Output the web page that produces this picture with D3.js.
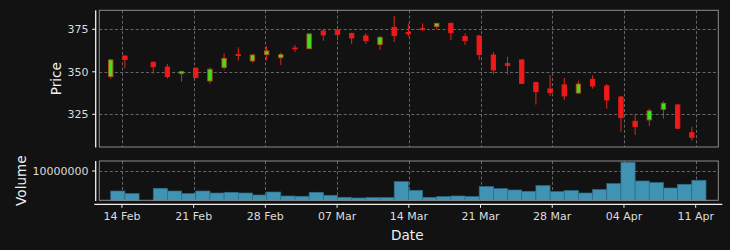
<!DOCTYPE html>
<html><head><meta charset="utf-8">
<script src="https://cdn.jsdelivr.net/npm/d3@7"></script>
<style>html,body{margin:0;padding:0;background:#121212;} svg{display:block;}</style>
</head><body><svg id="c" width="730" height="250"></svg>
<script>
// ---- data (null = missing session) ----
const open  = [347.2,359.3,null,355.6,352.8,348.9,352.1,344.6,352.5,360.1,356.4,360.1,358.3,364.0,363.6,374.0,374.6,372.6,371.1,366.0,376.2,373.2,375.4,376.6,378.5,370.7,371.1,359.9,354.8,357.0,343.6,339.9,342.3,337.5,345.6,341.7,335.2,320.9,321.7,327.9,330.5,314.2];
const high  = [357.3,359.6,null,356.0,354.6,350.5,352.6,352.6,360.9,364.4,360.5,365.2,361.3,365.8,372.6,375.0,375.2,373.0,372.6,371.1,382.8,378.5,378.5,378.5,378.9,372.6,371.7,361.7,358.9,357.4,344.2,348.1,346.4,344.8,347.9,342.8,335.8,325.2,328.3,332.6,331.1,317.7];
const low   = [346.0,352.1,null,348.9,346.0,344.2,346.2,343.0,351.1,356.6,355.4,356.6,354.0,361.7,363.4,368.3,368.7,366.4,366.4,362.8,367.5,370.7,374.2,375.0,368.7,365.8,357.0,348.5,348.5,342.8,330.7,335.8,333.4,337.3,340.1,328.3,314.8,312.8,318.1,322.5,316.4,309.5];
const close = [357.0,357.2,null,353.0,347.2,350.1,346.6,351.5,357.9,359.7,359.9,362.3,360.1,363.6,372.3,371.7,371.9,369.9,368.3,370.3,371.3,372.3,374.8,378.5,373.0,368.3,360.1,351.1,353.8,343.2,338.3,337.7,335.8,342.8,341.7,333.4,323.0,317.7,327.0,331.5,316.8,311.5];
const volume = [3170000,2290000,null,4100000,3170000,2290000,3170000,2490000,2730000,2490000,1810000,2830000,1470000,1370000,2730000,1710000,1020000,790000,920000,920000,6380000,3410000,1020000,1260000,1470000,1260000,4680000,3990000,3520000,3070000,5020000,2970000,3310000,2490000,3650000,5700000,12970000,6590000,6040000,4200000,5460000,6830000];
const priceTicks = [325, 350, 375];
const volumeTicks = [10000000];
const dateTicks = ['2022-02-14','2022-02-21','2022-02-28','2022-03-07','2022-03-14','2022-03-21','2022-03-28','2022-04-04','2022-04-11'];
const firstBar = new Date(Date.UTC(2022,1,12,21,46));
const barHours = 33.2;

// ---- layout ----
const L = 99.3, R = 718.3;
const pTop = 10.3, pBot = 147, vTop = 161, vBot = 200.3;
const dates = open.map((_, i) => d3.utcMinute.offset(firstBar, Math.round(i * barHours * 60)));
const parse = d3.utcParse('%Y-%m-%d');
const tickDates = dateTicks.map(parse);
const fmt = d3.utcFormat('%d %b');

const x = d3.scaleUtc()
  .domain([d3.utcHour.offset(tickDates[0], -52.5), d3.utcHour.offset(tickDates[tickDates.length-1], 53.7)])
  .range([L, R]);
const y = d3.scaleLinear().domain([305.76, 386.18]).range([pBot, pTop]);
const yv = d3.scaleLinear().domain([0, 13410000]).range([vBot, vTop]);

const svg = d3.select('#c');
svg.append('rect').attr('width', 730).attr('height', 250).attr('fill', '#121212');

const gridColor = '#7c7c7c';
const grid = svg.append('g').attr('stroke', gridColor).attr('stroke-width', 0.8).attr('stroke-dasharray', '3,2.2');
// vertical grid in both panels
tickDates.forEach(d => {
  const xx = Math.round(x(d)) + 0.5;
  grid.append('line').attr('x1', xx).attr('x2', xx).attr('y1', pTop).attr('y2', pBot);
  grid.append('line').attr('x1', xx).attr('x2', xx).attr('y1', vTop).attr('y2', vBot);
});
priceTicks.forEach(t => {
  const yy = Math.round(y(t)) + 0.5;
  grid.append('line').attr('x1', L).attr('x2', R).attr('y1', yy).attr('y2', yy);
});
volumeTicks.forEach(t => {
  const yy = Math.round(yv(t)) + 0.5;
  grid.append('line').attr('x1', L).attr('x2', R).attr('y1', yy).attr('y2', yy);
});

// ---- volume bars (aligned at left edge) ----
const idx = d3.range(open.length).filter(i => volume[i] != null);
const stepPx = x(dates[1]) - x(dates[0]);
svg.append('g').selectAll('rect').data(idx).join('rect')
  .attr('x', i => x(dates[i]))
  .attr('width', stepPx)
  .attr('y', i => yv(volume[i]))
  .attr('height', i => vBot - yv(volume[i]))
  .attr('fill', '#4193b3')
  .attr('stroke', '#2b6d8a')
  .attr('stroke-width', 0.7);

// ---- candles ----
const up = '#3fe01c', down = '#f01a1a', wick = '#e0261c';
const cidx = d3.range(open.length).filter(i => open[i] != null);
const cg = svg.append('g');
cg.selectAll('line').data(cidx).join('line')
  .attr('x1', i => x(dates[i])).attr('x2', i => x(dates[i]))
  .attr('y1', i => y(high[i])).attr('y2', i => y(low[i]))
  .attr('stroke', wick).attr('stroke-width', 1);
const bw = 4.4;
cg.selectAll('rect').data(cidx).join('rect')
  .attr('x', i => x(dates[i]) - bw / 2)
  .attr('width', bw)
  .attr('y', i => y(Math.max(open[i], close[i])))
  .attr('height', i => Math.max(0.8, Math.abs(y(open[i]) - y(close[i]))))
  .attr('fill', i => close[i] >= open[i] ? up : down)
  .attr('stroke', i => close[i] >= open[i] ? '#b0501c' : down)
  .attr('stroke-width', 0.9);

// ---- frames ----
[[pTop, pBot], [vTop, vBot]].forEach(([t, b]) => {
  svg.append('rect').attr('x', L).attr('y', t).attr('width', R - L).attr('height', b - t)
    .attr('fill', 'none').attr('stroke', '#8c8c8c').attr('stroke-width', 1);
});

// ---- spines / ticks ----
const spineX = 95.7;
const axisY = 204.3;
const white = '#f2f2f2';
svg.append('line').attr('x1', spineX).attr('x2', spineX).attr('y1', pTop).attr('y2', pBot + 0.5).attr('stroke', white).attr('stroke-width', 1.3);
svg.append('line').attr('x1', spineX).attr('x2', spineX).attr('y1', vTop).attr('y2', vBot + 0.7).attr('stroke', white).attr('stroke-width', 1.3);
svg.append('line').attr('x1', 94.3).attr('x2', 722.3).attr('y1', axisY).attr('y2', axisY).attr('stroke', white).attr('stroke-width', 1.3);

const font = 'DejaVu Sans, sans-serif';
const tickColor = '#dcdcdc';
priceTicks.forEach(t => {
  const yy = y(t);
  svg.append('line').attr('x1', spineX - 3.5).attr('x2', spineX).attr('y1', yy).attr('y2', yy).attr('stroke', white).attr('stroke-width', 1);
  svg.append('text').attr('x', 88.5).attr('y', yy).attr('dy', '0.36em').attr('text-anchor', 'end')
    .attr('font-family', font).attr('font-size', 11).attr('fill', tickColor).text(d3.format('d')(t));
});
volumeTicks.forEach(t => {
  const yy = yv(t);
  svg.append('line').attr('x1', spineX - 3.5).attr('x2', spineX).attr('y1', yy).attr('y2', yy).attr('stroke', white).attr('stroke-width', 1);
  svg.append('text').attr('x', 88.5).attr('y', yy).attr('dy', '0.36em').attr('text-anchor', 'end')
    .attr('font-family', font).attr('font-size', 11).attr('fill', tickColor).text(d3.format('d')(t));
});
tickDates.forEach(d => {
  const xx = x(d);
  svg.append('line').attr('x1', xx).attr('x2', xx).attr('y1', axisY).attr('y2', axisY + 3.5).attr('stroke', white).attr('stroke-width', 1);
  svg.append('text').attr('x', xx).attr('y', 220).attr('text-anchor', 'middle')
    .attr('font-family', font).attr('font-size', 11).attr('fill', tickColor).text(fmt(d));
});

// ---- axis titles ----
const labColor = '#f0f0f0';
svg.append('text').attr('transform', `translate(61,${(pTop + pBot) / 2}) rotate(-90)`).attr('text-anchor', 'middle')
  .attr('font-family', font).attr('font-size', 13.6).attr('fill', labColor).text('Price');
svg.append('text').attr('transform', `translate(25.7,${(vTop + vBot) / 2}) rotate(-90)`).attr('text-anchor', 'middle')
  .attr('font-family', font).attr('font-size', 13.6).attr('fill', labColor).text('Volume');
svg.append('text').attr('x', (L + R) / 2 - 1.5).attr('y', 240).attr('text-anchor', 'middle')
  .attr('font-family', font).attr('font-size', 13.6).attr('fill', labColor).text('Date');
</script></body></html>
